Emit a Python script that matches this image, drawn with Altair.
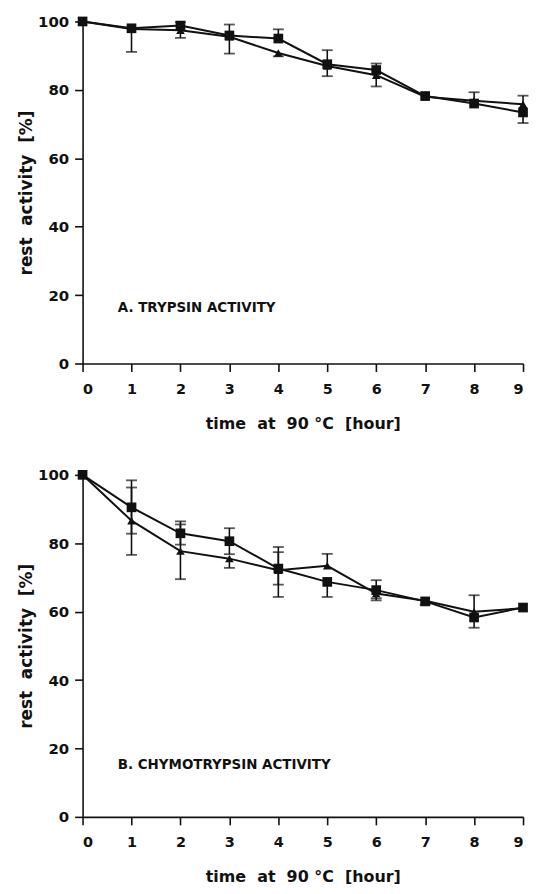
import altair as alt
import pandas as pd

hours = list(range(10))

# Panel A: trypsin activity
a_square = [100, 98.0, 98.8, 95.9, 95.0, 87.5, 85.8, 78.2, 76.0, 73.4]
a_triangle = [100, 97.8, 97.4, 95.5, 90.8, 87.0, 84.3, 78.0, 76.8, 75.8]
a_square_lo = [None, 91.1, None, 90.6, None, 84.0, None, None, None, 70.3]
a_square_hi = [None, None, 99.8, 99.1, 97.7, 91.6, 87.7, None, None, None]
a_triangle_lo = [None, None, 95.2, None, 89.8, None, 81.0, None, None, None]
a_triangle_hi = [None, None, None, None, None, None, None, None, 79.3, 78.3]

# Panel B: chymotrypsin activity
b_square = [100, 90.5, 82.9, 80.6, 72.6, 68.7, 66.3, 63.0, 58.3, 61.2]
b_triangle = [100, 86.6, 77.7, 75.5, 72.1, 73.4, 65.3, 63.2, 60.0, 61.0]
b_square_lo = [None, 82.8, 79.6, 76.8, 67.9, 64.3, 63.3, 62.0, 55.3, None]
b_square_hi = [None, 98.4, 86.4, 84.4, 78.9, None, 69.2, None, None, None]
b_triangle_lo = [None, 76.6, 69.5, 72.8, 64.3, None, 63.9, None, None, None]
b_triangle_hi = [None, 96.3, 85.5, None, 77.4, 76.9, None, None, 64.8, None]

x_ticks = list(range(10))
y_ticks = [0, 20, 40, 60, 80, 100]

NB = "\u00a0"
x_title = f"time{NB}{NB}at{NB}{NB}90{NB}°C{NB}{NB}[hour]"
y_title = f"rest{NB}{NB}activity{NB}{NB}[%]"

FONT = "DejaVu Sans"
INK = "#111111"


def build_tables(sq, tri, sq_lo, sq_hi, tri_lo, tri_hi):
    pts = []
    errs = []
    for name, vals, lo, hi in (("square", sq, sq_lo, sq_hi), ("triangle", tri, tri_lo, tri_hi)):
        for h, v, l, u in zip(hours, vals, lo, hi):
            pts.append({"hour": h, "value": v, "series": name})
            if l is not None:
                errs.append({"hour": h, "y1": l, "y2": v, "cap": l})
            if u is not None:
                errs.append({"hour": h, "y1": v, "y2": u, "cap": u})
    return pd.DataFrame(pts), pd.DataFrame(errs)


def panel(sq, tri, sq_lo, sq_hi, tri_lo, tri_hi, label, label_x, label_y):
    pts, errs = build_tables(sq, tri, sq_lo, sq_hi, tri_lo, tri_hi)
    x = alt.X("hour:Q", scale=alt.Scale(domain=[0, 9], nice=False),
              axis=alt.Axis(values=x_ticks, title=x_title, labelAngle=0,
                            labelPadding=11, titlePadding=20, labelFontSize=14.5,
                            titleFontSize=16))
    y_axis = alt.Axis(values=y_ticks, title=y_title, labelPadding=6,
                      titlePadding=2, labelFontSize=15, titleFontSize=17)
    yscale = alt.Scale(domain=[0, 100], nice=False)

    lines = alt.Chart(pts).mark_line(color=INK, strokeWidth=2).encode(
        x=x, y=alt.Y("value:Q", scale=yscale, axis=y_axis), detail="series:N")
    rules = alt.Chart(errs).mark_rule(color=INK, strokeWidth=1.6).encode(
        x="hour:Q", y="y1:Q", y2="y2:Q")
    caps = alt.Chart(errs).mark_tick(color=INK, orient="horizontal", size=11,
                                     thickness=1.8).encode(x="hour:Q", y="cap:Q")
    points = alt.Chart(pts).mark_point(filled=True, opacity=1, color=INK).encode(
        x="hour:Q", y="value:Q",
        shape=alt.Shape("series:N", scale=alt.Scale(domain=["square", "triangle"],
                                                      range=["square", "triangle-up"]),
                        legend=None),
        size=alt.Size("series:N", scale=alt.Scale(domain=["square", "triangle"],
                                                   range=[95, 75]),
                      legend=None))
    text = alt.Chart(pd.DataFrame({"t": [label]})).mark_text(
        align="left", baseline="middle", font=FONT, fontSize=13.5,
        fontWeight="bold", color=INK).encode(
        x=alt.datum(label_x), y=alt.datum(label_y), text="t:N")
    return alt.layer(lines, rules, caps, points, text).properties(width=443, height=344)


top = panel(a_square, a_triangle, a_square_lo, a_square_hi, a_triangle_lo, a_triangle_hi,
            "A. TRYPSIN ACTIVITY", 0.72, 16.2)
bottom = panel(b_square, b_triangle, b_square_lo, b_square_hi, b_triangle_lo, b_triangle_hi,
               "B. CHYMOTRYPSIN ACTIVITY", 0.72, 15.1)

chart = alt.vconcat(top, bottom, spacing=36).properties(
    padding={"left": 9, "top": 4, "right": 0, "bottom": 0}
).configure_view(stroke=None).configure_axis(
    grid=False, domainColor=INK, domainWidth=1.6, tickColor=INK, tickWidth=1.6,
    tickSize=8, labelFont=FONT, labelFontWeight="bold",
    labelColor=INK, titleFont=FONT, titleFontWeight="bold",
    titleColor=INK
)

chart.save("out.html", embed_options={"renderer": "svg", "actions": False})
